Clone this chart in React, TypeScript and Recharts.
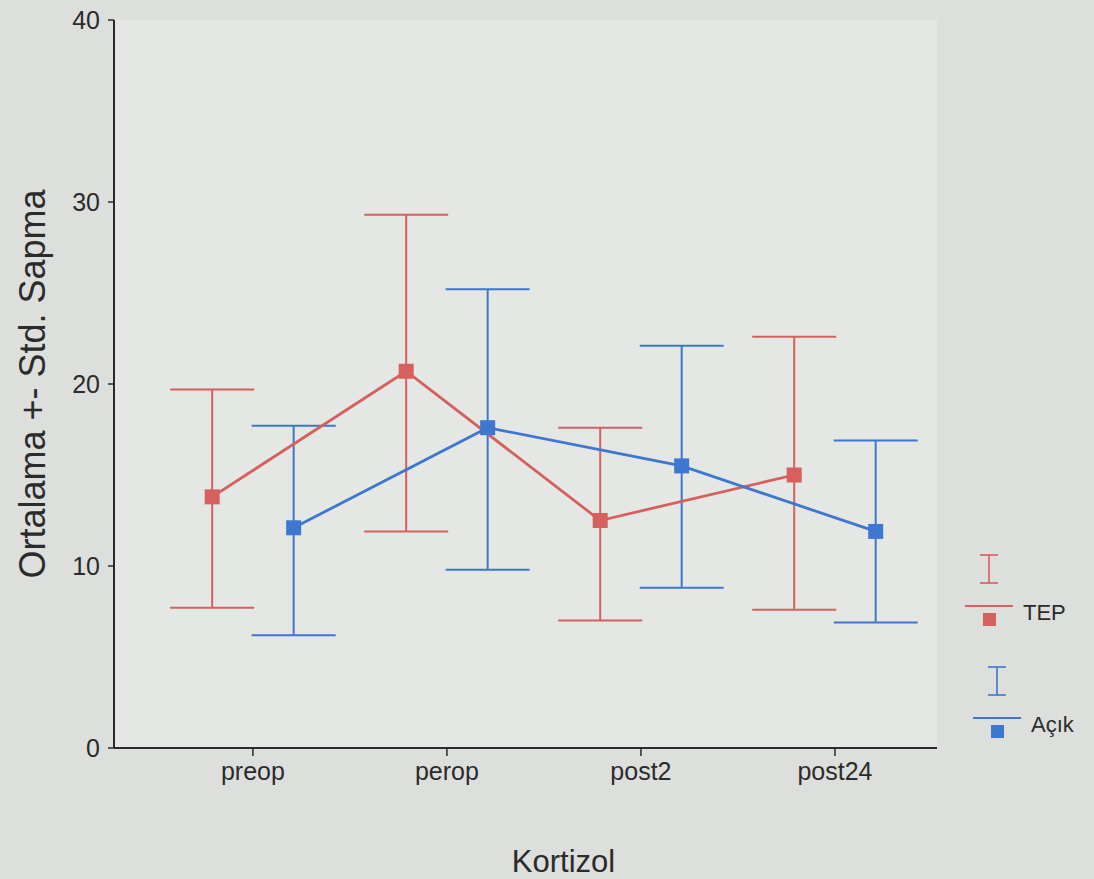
import React from "react";
import {
  ScatterChart,
  Scatter,
  ErrorBar,
  XAxis,
  YAxis,
  CartesianGrid,
} from "recharts";

const categories = ["preop", "perop", "post2", "post24"];
const yTicks = [0, 10, 20, 30, 40];

const tepMean = [13.8, 20.7, 12.5, 15.0];
const tepLow = [7.7, 11.9, 7.0, 7.6];
const tepHigh = [19.7, 29.3, 17.6, 22.6];

const acikMean = [12.1, 17.6, 15.5, 11.9];
const acikLow = [6.2, 9.8, 8.8, 6.9];
const acikHigh = [17.7, 25.2, 22.1, 16.9];

const RED = "#d6605d";
const BLUE = "#3d77d0";
const INK = "#2b2b2b";
const FONT = "'Liberation Sans', Arial, sans-serif";

// clustered: each group sits a bit left/right of the category tick
const buildSeries = (mean: number[], low: number[], high: number[], shift: number) =>
  mean.map((m, i) => ({
    x: i + 1 + shift,
    y: m,
    err: [+(m - low[i]).toFixed(2), +(high[i] - m).toFixed(2)],
  }));

const tepData = buildSeries(tepMean, tepLow, tepHigh, -0.21);
const acikData = buildSeries(acikMean, acikLow, acikHigh, 0.21);

const squareShape = (color: string) => (props: any) => {
  const { cx, cy } = props;
  if (cx == null || cy == null) return <g />;
  return <rect x={cx - 7.5} y={cy - 7.5} width={15} height={15} fill={color} />;
};

function LegendBox() {
  const item = (color: string, label: string, ox: number, oy: number) => (
    <g key={label}>
      <line x1={ox - 9} x2={ox + 9} y1={oy} y2={oy} stroke={color} strokeWidth={1.6} />
      <line x1={ox} x2={ox} y1={oy} y2={oy + 28} stroke={color} strokeWidth={1.6} />
      <line x1={ox - 9} x2={ox + 9} y1={oy + 28} y2={oy + 28} stroke={color} strokeWidth={1.6} />
      <line x1={ox - 24} x2={ox + 24} y1={oy + 51} y2={oy + 51} stroke={color} strokeWidth={2} />
      <rect x={ox - 6} y={oy + 58} width={13} height={13} fill={color} />
      <text x={ox + 34} y={oy + 65} fontSize={22} fill={INK} fontFamily={FONT}>
        {label}
      </text>
    </g>
  );
  return (
    <svg width={139} height={210} style={{ position: "absolute", left: 955, top: 545 }}>
      {item(RED, "TEP", 34, 10)}
      {item(BLUE, "Açık", 42, 122)}
    </svg>
  );
}

export default function App() {
  return (
    <div
      style={{
        position: "absolute",
        left: 0,
        top: 0,
        width: 1094,
        height: 879,
        background: "#dddfdc",
        fontFamily: FONT,
      }}
    >
      <ScatterChart
        width={1094}
        height={879}
        margin={{ top: 20, right: 157, bottom: 7, left: 0 }}
      >
        <CartesianGrid horizontal={false} vertical={false} fill="#e5e7e4" />
        <XAxis
          type="number"
          dataKey="x"
          domain={[0.284, 4.526]}
          ticks={[1, 2, 3, 4]}
          tickFormatter={(v) => categories[Math.round(v) - 1] ?? ""}
          allowDataOverflow
          height={124}
          tickSize={8}
          tickMargin={6}
          axisLine={{ stroke: INK, strokeWidth: 2 }}
          tickLine={{ stroke: INK, strokeWidth: 1.5 }}
          tick={{ fontSize: 25, fill: INK, fontFamily: FONT }}
          label={{
            value: "Kortizol",
            position: "insideBottom",
            offset: 0,
            dx: 38,
            style: { fontSize: 31, fill: INK, fontFamily: FONT },
          }}
        />
        <XAxis
          xAxisId="top"
          orientation="top"
          type="number"
          dataKey="x"
          domain={[0.284, 4.526]}
          height={0}
          tick={false}
          tickLine={false}
          axisLine={{ stroke: INK, strokeWidth: 2 }}
        />
        <YAxis
          type="number"
          dataKey="y"
          domain={[0, 40]}
          ticks={yTicks}
          width={114}
          tickSize={6}
          tickMargin={8}
          axisLine={{ stroke: INK, strokeWidth: 2 }}
          tickLine={{ stroke: INK, strokeWidth: 1.5 }}
          tick={{ fontSize: 25, fill: INK, fontFamily: FONT }}
          label={{
            value: "Ortalama +- Std. Sapma",
            angle: -90,
            position: "insideLeft",
            offset: 32,
            style: { fontSize: 36, fill: INK, fontFamily: FONT, textAnchor: "middle" },
          }}
        />
        <YAxis
          yAxisId="right"
          orientation="right"
          type="number"
          domain={[0, 40]}
          width={0}
          tick={false}
          tickLine={false}
          axisLine={{ stroke: INK, strokeWidth: 2 }}
        />
        <Scatter
          name="TEP"
          data={tepData}
          fill={RED}
          line={{ stroke: RED, strokeWidth: 2.8 }}
          shape={squareShape(RED)}
          isAnimationActive={false}
        >
          <ErrorBar dataKey="err" direction="y" width={42} stroke={RED} strokeWidth={2} />
        </Scatter>
        <Scatter
          name="Açık"
          data={acikData}
          fill={BLUE}
          line={{ stroke: BLUE, strokeWidth: 2.8 }}
          shape={squareShape(BLUE)}
          isAnimationActive={false}
        >
          <ErrorBar dataKey="err" direction="y" width={42} stroke={BLUE} strokeWidth={2} />
        </Scatter>
      </ScatterChart>
      <LegendBox />
    </div>
  );
}
